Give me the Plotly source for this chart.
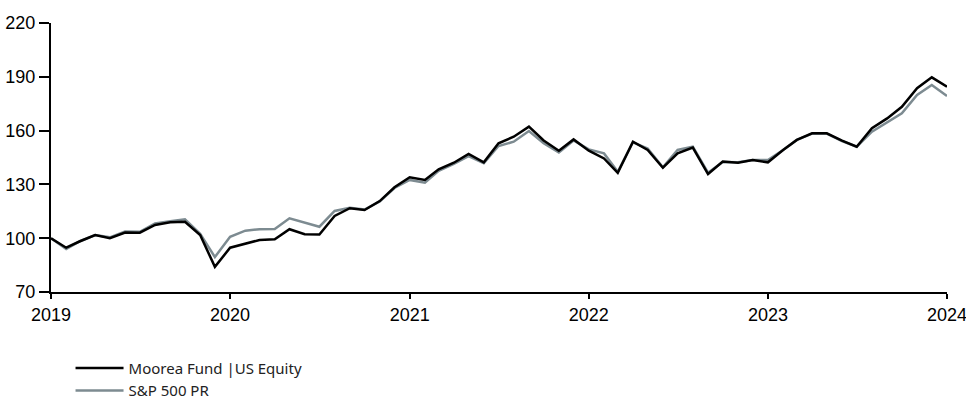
import pandas as pd
import plotly.graph_objects as go

dates = pd.date_range("2019-01-01", periods=61, freq="MS")

moorea = [100, 94.7, 98.3, 101.8, 100, 103.2, 103.1, 107.4, 108.9, 109.2,
          101.8, 84, 94.7, 97.1, 99, 99.4, 105, 102.2, 102, 112.4,
          116.7, 115.7, 120.7, 128.4, 134, 132.5, 138.4, 142.1, 147, 142.3,
          152.9, 156.6, 162.2, 154.5, 148.8, 155.1, 148.8, 144.5, 136.5, 153.8,
          149.2, 139.3, 147.3, 150.5, 135.8, 142.7, 142.1, 143.6, 142.3, 149.2,
          154.8, 158.5, 158.5, 154.4, 151, 161.3, 166.8, 173.3, 183.6, 189.7,
          184.5]

sp500 = [100, 94, 98.3, 101.8, 100.5, 103.8, 103.6, 108.2, 109.5, 110.5,
         102.5, 89.5, 100.8, 104.2, 105, 105.1, 111.1, 108.7, 106.4, 115.2,
         117, 116, 120.5, 128, 132.5, 131, 137.6, 141.4, 145.8, 141.8,
         151.4, 153.8, 159.8, 152.9, 147.8, 154.5, 149.5, 147.3, 137, 153.5,
         150, 139.5, 149.2, 151, 136.5, 142.5, 142.3, 143.6, 143.6, 149.2,
         154.8, 158.3, 158.3, 154.2, 151, 159.4, 164.4, 169.6, 179.9, 185.4,
         179.3]

series_names = ["Moorea Fund |US Equity", "S&P 500 PR"]
y_ticks = [70, 100, 130, 160, 190, 220]

fig = go.Figure()
fig.add_trace(go.Scatter(x=dates, y=sp500, mode="lines", name=series_names[1],
                         line=dict(color="#7d8b91", width=2.5), legendrank=2))
fig.add_trace(go.Scatter(x=dates, y=moorea, mode="lines", name=series_names[0],
                         line=dict(color="#000000", width=2.5), legendrank=1))

fig.update_layout(
    width=966, height=403,
    margin=dict(l=51, r=19, t=23, b=111),
    paper_bgcolor="white", plot_bgcolor="white",
    font=dict(family="Liberation Sans, Arial, sans-serif", size=18, color="#000"),
    showlegend=True,
    legend=dict(x=0.0218, xref="paper", y=0.127, yref="container",
                xanchor="left", yanchor="top",
                orientation="v", tracegroupgap=0, itemwidth=48,
                font=dict(family="Noto Sans, sans-serif", size=15, color="#222"),
                bgcolor="rgba(0,0,0,0)"),
)
fig.update_xaxes(range=[dates[0], dates[-1]], dtick="M12", tickformat="%Y",
                 automargin=False, ticklabeloverflow="allow",
                 showgrid=False, zeroline=False, showline=True, linecolor="#000",
                 linewidth=2, ticks="outside", ticklen=5, tickwidth=2, tickcolor="#000")
fig.update_yaxes(range=[70, 220], tickvals=y_ticks, showgrid=False, zeroline=False,
                 automargin=False,
                 showline=True, linecolor="#000", linewidth=2, ticks="outside",
                 ticklen=10, tickwidth=2, tickcolor="#000")

fig.write_html("out.html", config={"displayModeBar": False},
               post_script="document.body.style.margin='0';document.body.style.overflow='hidden';")
